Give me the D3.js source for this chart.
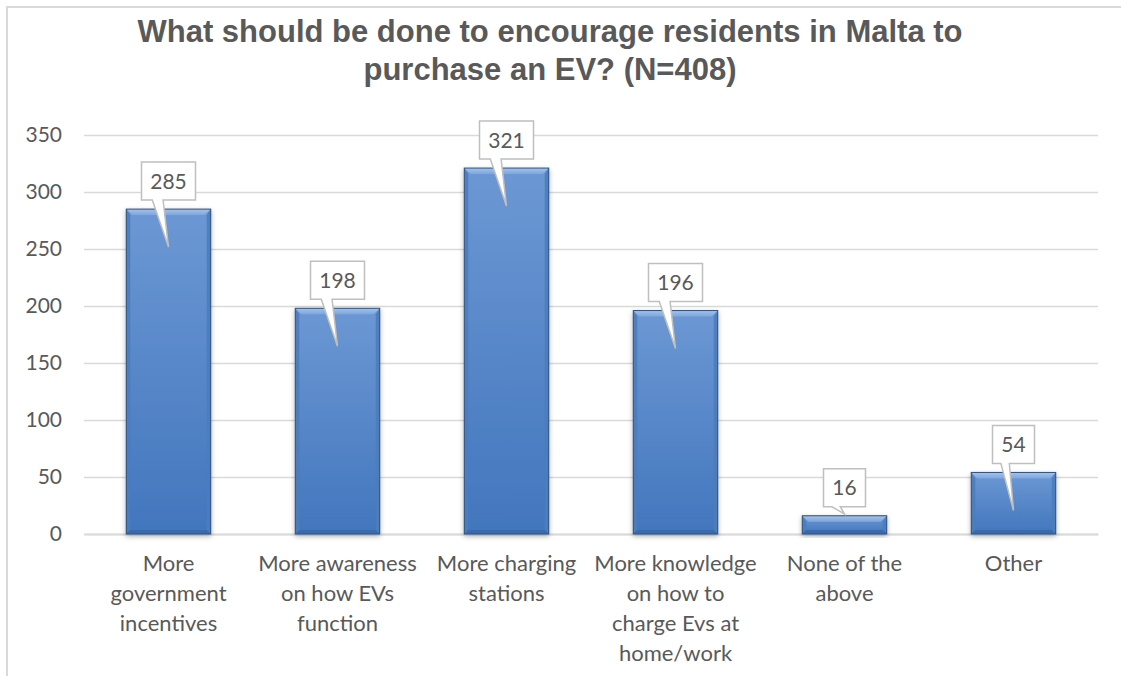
<!DOCTYPE html>
<html>
<head>
<meta charset="utf-8">
<script src="https://cdn.jsdelivr.net/npm/d3@7"></script>
<style>
  body { margin: 0; background: #fff; }
  svg { display: block; }
</style>
</head>
<body>
<svg id="chart" width="1121" height="676"></svg>
<script>
// chart data
const categories = ['More government incentives', 'More awareness on how EVs function',
  'More charging stations', 'More knowledge on how to charge Evs at home/work',
  'None of the above', 'Other'];
const categoryLines = [
  ['More', 'government', 'incentives'],
  ['More awareness', 'on how EVs', 'function'],
  ['More charging', 'stations'],
  ['More knowledge', 'on how to', 'charge Evs at', 'home/work'],
  ['None of the', 'above'],
  ['Other']
];
const values = [285, 198, 321, 196, 16, 54];
const yTicks = [0, 50, 100, 150, 200, 250, 300, 350];
const titleLines = ['What should be done to encourage residents in Malta to', 'purchase an EV? (N=408)'];

const textColor = '#595959';
const gridColor = '#d9d9d9';

let svg = d3.select('#chart');

// outer frame (continues past the picture edge)
svg.append('rect')
    .attr('x', 7).attr('y', 7)
    .attr('width', 1300).attr('height', 1000)
    .attr('fill', 'none')
    .attr('stroke', gridColor)
    .attr('stroke-width', 2);

let defs = svg.append('defs');

let body = defs.append('linearGradient').attr('id', 'barBody')
    .attr('x1', 0).attr('x2', 0).attr('y1', 0).attr('y2', 1);
body.append('stop').attr('offset', '0%').attr('stop-color', '#6c98d4');
body.append('stop').attr('offset', '100%').attr('stop-color', '#4276bd');

let topGrad = defs.append('linearGradient').attr('id', 'barTop')
    .attr('x1', 0).attr('x2', 0).attr('y1', 0).attr('y2', 1);
topGrad.append('stop').attr('offset', '0%').attr('stop-color', '#a2c3ec');
topGrad.append('stop').attr('offset', '100%').attr('stop-color', '#7ea6dd');

let shadow = defs.append('filter').attr('id', 'shadow')
    .attr('x', '-20%').attr('y', '-20%').attr('width', '140%').attr('height', '140%');
shadow.append('feDropShadow')
    .attr('dx', 0).attr('dy', 2)
    .attr('stdDeviation', 2.5)
    .attr('flood-color', '#000')
    .attr('flood-opacity', 0.3);

let x = d3.scaleBand()
    .domain(categories)
    .range([84, 1098])
    .paddingInner(0.5)
    .paddingOuter(0.25);

let y = d3.scaleLinear()
    .domain([0, 350])
    .range([534, 135]);

// y axis + gridlines
let yAxis = svg.append('g')
    .attr('transform', 'translate(84,0)')
    .call(d3.axisLeft(y)
        .tickValues(yTicks)
        .tickSize(-(1098 - 84))
        .tickPadding(22));
yAxis.select('.domain').remove();
yAxis.selectAll('.tick line')
    .attr('stroke', gridColor)
    .attr('stroke-width', 1.5);
yAxis.selectAll('.tick text')
    .attr('fill', textColor)
    .attr('font-family', 'Lato, "Open Sans", sans-serif')
    .attr('font-size', 21);

// title
svg.append('text')
    .attr('x', 550)
    .attr('text-anchor', 'middle')
    .attr('font-family', '"Liberation Sans", Arial, sans-serif')
    .attr('font-weight', 'bold')
    .attr('font-size', 31)
    .attr('fill', textColor)
  .selectAll('tspan')
  .data(titleLines)
  .enter().append('tspan')
    .attr('x', 550)
    .attr('y', function(d, i) { return 42 + i * 38; })
    .text(function(d) { return d; });

// x axis baseline + category labels (under the bars)
let xAxis = svg.append('g')
    .attr('transform', 'translate(0,' + y(0) + ')')
    .call(d3.axisBottom(x).tickSize(0).tickFormat(''));
xAxis.select('.domain')
    .attr('stroke', gridColor)
    .attr('stroke-width', 2);

xAxis.selectAll('.tick').each(function(d, i) {
  let t = d3.select(this).append('text')
      .attr('fill', textColor)
      .attr('font-family', 'Lato, "Open Sans", sans-serif')
      .attr('font-size', 22)
      .attr('text-anchor', 'middle');
  t.selectAll('tspan')
    .data(categoryLines[i])
    .enter().append('tspan')
      .attr('x', 0)
      .attr('y', function(l, k) { return 37 + k * 30; })
      .text(function(l) { return l; });
});

// bars with bevel
let bars = svg.append('g').attr('class', 'bars')
  .selectAll('g')
  .data(values)
  .enter().append('g')
    .attr('filter', 'url(#shadow)');

bars.each(function(d, i) {
  let g = d3.select(this);
  let bx = x(categories[i]);
  let bw = x.bandwidth();
  let by = y(d);
  let bh = y(0) - y(d);
  let b = Math.min(6, bh / 2);
  let s = Math.min(4, bh / 2);

  g.append('rect')
      .attr('x', bx).attr('y', by)
      .attr('width', bw).attr('height', bh)
      .attr('fill', 'url(#barBody)');
  // top bevel
  g.append('polygon')
      .attr('points', [[bx, by], [bx + bw, by], [bx + bw - b, by + b], [bx + b, by + b]].join(' '))
      .attr('fill', 'url(#barTop)');
  // sides
  g.append('polygon')
      .attr('points', [[bx, by], [bx + s, by + b], [bx + s, by + bh - s], [bx, by + bh]].join(' '))
      .attr('fill', '#4d7cbb')
      .attr('opacity', 0.9);
  g.append('polygon')
      .attr('points', [[bx + bw, by], [bx + bw - s, by + b], [bx + bw - s, by + bh - s], [bx + bw, by + bh]].join(' '))
      .attr('fill', '#4d7cbb')
      .attr('opacity', 0.9);
  // bottom
  g.append('polygon')
      .attr('points', [[bx, by + bh], [bx + s, by + bh - s], [bx + bw - s, by + bh - s], [bx + bw, by + bh]].join(' '))
      .attr('fill', '#3a6aab');
  g.append('rect')
      .attr('x', bx).attr('y', by)
      .attr('width', bw).attr('height', bh)
      .attr('fill', 'none')
      .attr('stroke', '#2e5080')
      .attr('stroke-width', 1);
});

// data label callouts
let labels = svg.append('g').attr('class', 'callouts')
  .selectAll('g')
  .data(values)
  .enter().append('g');

labels.each(function(d, i) {
  let g = d3.select(this);
  let cx = x(categories[i]) + x.bandwidth() / 2;
  let top = y(d);
  let txt = String(d);
  let w = txt.length * 12 + 18;
  let h = 38;
  let bottom = top - 9;
  let tipY = Math.min(top + 38, y(0) - 20);
  let left = cx - w / 2, right = cx + w / 2;
  let p = d3.path();
  p.moveTo(left, bottom - h);
  p.lineTo(right, bottom - h);
  p.lineTo(right, bottom);
  p.lineTo(cx - 0.1 * w, bottom);
  p.lineTo(cx, tipY);
  p.lineTo(cx - 0.3 * w, bottom);
  p.lineTo(left, bottom);
  p.closePath();
  g.append('path')
      .attr('d', p.toString())
      .attr('fill', '#fff')
      .attr('stroke', '#bfbfbf')
      .attr('stroke-width', 1.5);
  g.append('text')
      .attr('x', cx)
      .attr('y', bottom - h / 2)
      .attr('dy', '0.36em')
      .attr('text-anchor', 'middle')
      .attr('fill', textColor)
      .attr('font-family', 'Lato, "Open Sans", sans-serif')
      .attr('font-size', 21)
      .text(txt);
});
</script>
</body>
</html>
